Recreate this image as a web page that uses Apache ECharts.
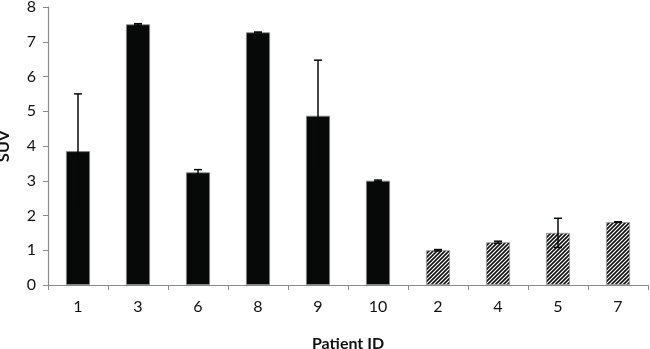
<!DOCTYPE html>
<html>
<head>
<meta charset="utf-8">
<script src="https://cdn.jsdelivr.net/npm/echarts@6/dist/echarts.min.js"></script>
<style>html,body{margin:0;padding:0;background:#fff;}#c{width:650px;height:349px;}</style>
</head>
<body>
<div id="c"></div>
<script>
var categories = ['1', '3', '6', '8', '9', '10', '2', '4', '5', '7'];
var suvValues = [3.85, 7.5, 3.24, 7.27, 4.87, 3.0, 1.0, 1.23, 1.5, 1.81];
var suvErrors = [1.65, 0.02, 0.08, 0.01, 1.6, 0.02, 0.02, 0.03, 0.42, 0.01];
var hatched = [false, false, false, false, false, false, true, true, true, true];
var yTicks = [0, 1, 2, 3, 4, 5, 6, 7, 8];

function makePattern() {
  var s = 4;
  var cv = document.createElement('canvas');
  cv.width = s; cv.height = s;
  var ctx = cv.getContext('2d');
  ctx.fillStyle = '#fff';
  ctx.fillRect(0, 0, s, s);
  ctx.strokeStyle = '#111';
  ctx.lineWidth = 1.6;
  ctx.beginPath();
  ctx.moveTo(-1, s + 1); ctx.lineTo(s + 1, -1);
  ctx.moveTo(-1, 1); ctx.lineTo(1, -1);
  ctx.moveTo(s - 1, s + 1); ctx.lineTo(s + 1, s - 1);
  ctx.stroke();
  return cv;
}
var pattern = {image: makePattern(), repeat: 'repeat'};

var barData = suvValues.map(function (v, i) {
  return {
    value: v,
    itemStyle: hatched[i] ? {color: pattern, borderColor: '#999', borderWidth: 0.8}
                          : {color: '#070909', borderColor: '#888', borderWidth: 0.8}
  };
});
var errData = suvValues.map(function (v, i) { return [i, v - suvErrors[i], v + suvErrors[i]]; });

var chart = echarts.init(document.getElementById('c'), null, {renderer: 'canvas'});
var font = 'Lato, "Open Sans", sans-serif';
chart.setOption({
  animation: false,
  backgroundColor: '#fff',
  grid: {left: 48, right: 2, top: 7, bottom: 64, containLabel: false, outerBoundsMode: 'none'},
  xAxis: {
    type: 'category',
    data: categories,
    name: 'Patient ID',
    nameLocation: 'middle',
    nameGap: 51,
    nameTextStyle: {fontFamily: font, fontWeight: 'bold', fontSize: 16, color: '#111'},
    axisLine: {lineStyle: {color: '#8a8a8a', width: 1.2}},
    axisTick: {show: true, length: 5, lineStyle: {color: '#8a8a8a'}},
    axisLabel: {fontFamily: font, fontSize: 16, color: '#111', margin: 14}
  },
  yAxis: {
    type: 'value',
    min: 0, max: 8, interval: 1,
    name: 'SUV',
    nameLocation: 'middle',
    nameGap: 36,
    nameRotate: 90,
    nameTextStyle: {fontFamily: font, fontWeight: 'bold', fontSize: 16, color: '#111'},
    axisLine: {show: true, lineStyle: {color: '#8a8a8a', width: 1.2}},
    axisTick: {show: true, length: 5, lineStyle: {color: '#8a8a8a'}},
    splitLine: {show: false},
    axisLabel: {fontFamily: font, fontSize: 16, color: '#111', margin: 12,
      formatter: function (v) { return yTicks.indexOf(v) >= 0 ? String(v) : ''; }}
  },
  series: [
    {type: 'bar', data: barData, barWidth: 24},
    {
      type: 'custom',
      data: errData,
      z: 10,
      renderItem: function (params, api) {
        var x = api.value(0);
        var lo = api.coord([x, api.value(1)]);
        var hi = api.coord([x, api.value(2)]);
        var half = 4;
        var st = {stroke: '#070909', lineWidth: 1.5};
        return {
          type: 'group',
          children: [
            {type: 'line', shape: {x1: hi[0], y1: hi[1], x2: lo[0], y2: lo[1]}, style: st},
            {type: 'line', shape: {x1: hi[0] - half, y1: hi[1], x2: hi[0] + half, y2: hi[1]}, style: st},
            {type: 'line', shape: {x1: lo[0] - half, y1: lo[1], x2: lo[0] + half, y2: lo[1]}, style: st}
          ]
        };
      }
    }
  ]
});
</script>
</body>
</html>
